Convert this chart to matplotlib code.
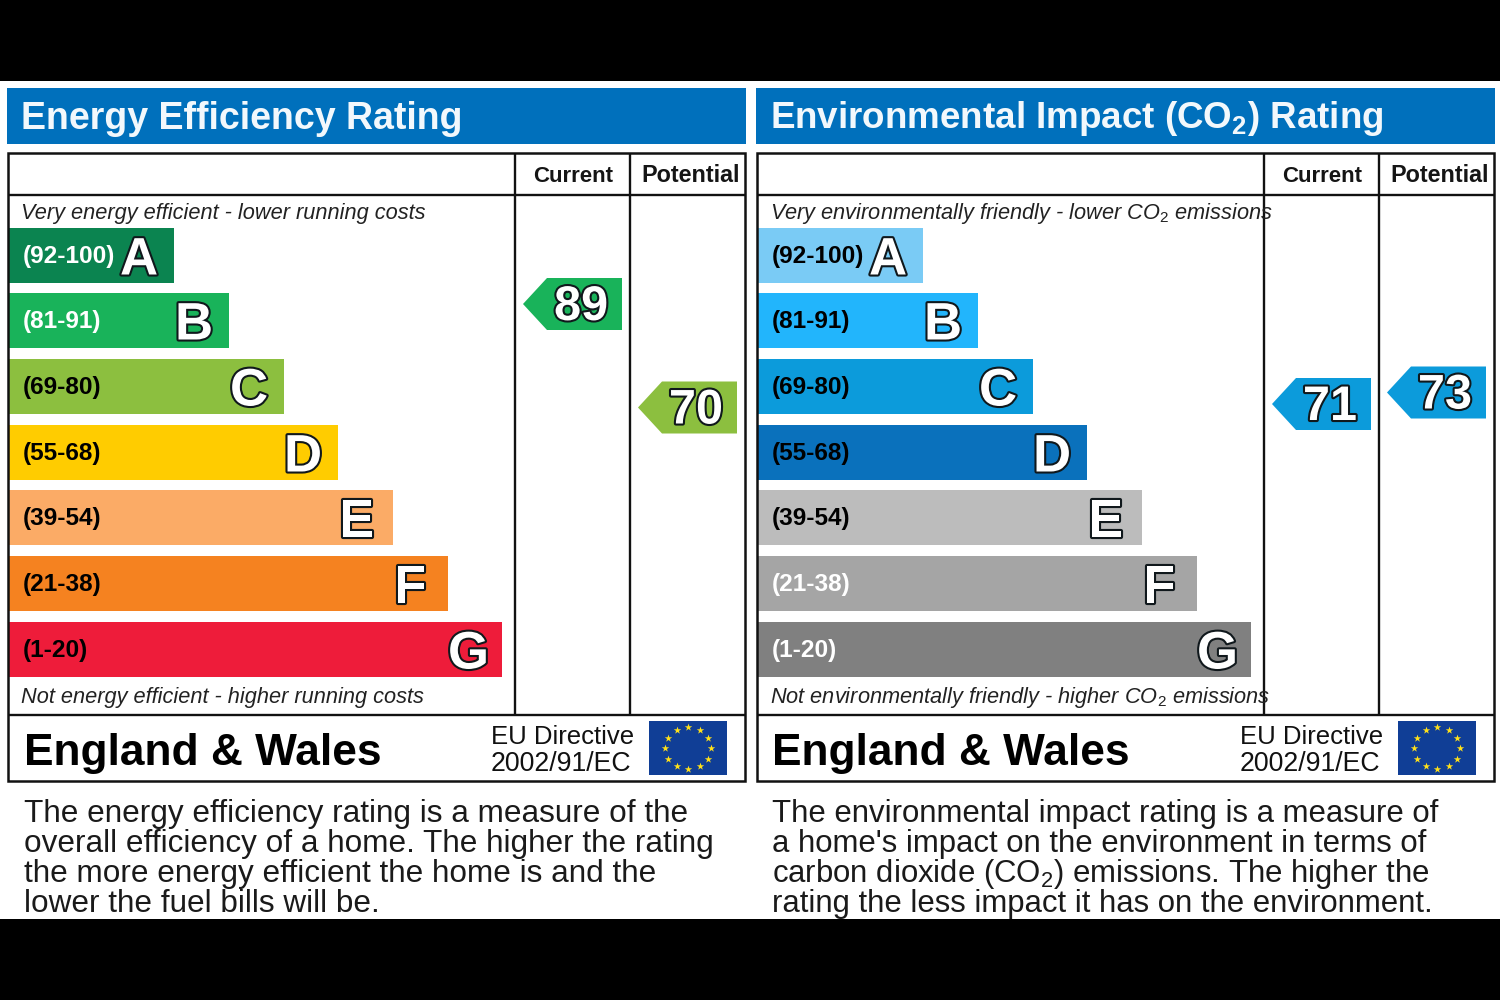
import numpy as np
import matplotlib
matplotlib.use("Agg")
import matplotlib.pyplot as plt
import matplotlib.patheffects as pe
from matplotlib.patches import Polygon, Rectangle

plt.rcParams['font.family'] = ['Liberation Sans', 'DejaVu Sans']
plt.rcParams['mathtext.fontset'] = 'custom'
plt.rcParams['mathtext.rm'] = 'Liberation Sans'
plt.rcParams['mathtext.it'] = 'Liberation Sans:italic'
plt.rcParams['mathtext.bf'] = 'Liberation Sans:bold'

bands = ['(92-100)', '(81-91)', '(69-80)', '(55-68)', '(39-54)', '(21-38)', '(1-20)']
letters = ['A', 'B', 'C', 'D', 'E', 'F', 'G']
bar_lengths = [165, 220, 275, 329, 384, 439, 493]
energy_colors = ['#0B8450', '#19B35A', '#8CBF3F', '#FFCC00', '#FBAB66', '#F58220', '#EE1C3A']
co2_colors = ['#7ACBF5', '#22B5FC', '#0C9BDB', '#0A71BC', '#BCBCBC', '#A5A5A5', '#808080']
energy_band_text = ['white', 'white', 'black', 'black', 'black', 'black', 'black']
co2_band_text = ['black', 'black', 'black', 'black', 'black', 'white', 'white']

energy_current, energy_potential = 89, 70
co2_current, co2_potential = 71, 73

energy_title = 'Energy Efficiency Rating'
co2_title = r'Environmental Impact (CO$_{\mathbf{2}}$) Rating'
energy_top = 'Very energy efficient - lower running costs'
energy_bottom = 'Not energy efficient - higher running costs'
co2_top = r'Very environmentally friendly - lower CO$_{\mathit{2}}$ emissions'
co2_bottom = r'Not environmentally friendly - higher CO$_{\mathit{2}}$ emissions'
energy_text = ['The energy efficiency rating is a measure of the',
               'overall efficiency of a home. The higher the rating',
               'the more energy efficient the home is and the',
               'lower the fuel bills will be.']
co2_text = ['The environmental impact rating is a measure of',
            "a home's impact on the environment in terms of",
            r'carbon dioxide (CO$_{\mathrm{2}}$) emissions. The higher the',
            'rating the less impact it has on the environment.']

fig = plt.figure(figsize=(15, 10), dpi=100, facecolor='white')
ax = fig.add_axes([0, 0, 1, 1])
ax.set_xlim(0, 1500)
ax.set_ylim(1000, 0)
ax.axis('off')

ax.add_patch(Rectangle((0, 0), 1500, 81, fc='black', ec='none'))
ax.add_patch(Rectangle((0, 919), 1500, 81, fc='black', ec='none'))

BLUE = '#0070BC'
band_y = [255.5, 320.5, 386.5, 452.5, 517.5, 583.5, 649.5]
outline = [pe.withStroke(linewidth=3.0, foreground='#10181c')]


def arrow(x_right, yc, color, value):
    w, h, tip = 99, 26, 24
    pts = [(x_right, yc - h), (x_right, yc + h), (x_right - w + tip, yc + h),
           (x_right - w, yc), (x_right - w + tip, yc - h)]
    ax.add_patch(Polygon(pts, closed=True, fc=color, ec='none', zorder=3))
    ax.text(x_right - 41, yc + 3.5, str(value), color='white', fontsize=35, fontweight='bold',
            ha='center', va='center', path_effects=outline, zorder=4)


def panel(x0, fx, title, title_size, colors, band_text, top, bottom, body, body_size):
    # x0 is the left edge of the panel content, fx the left edge of its frame
    ax.add_patch(Rectangle((x0 - 1, 88), 739, 56, fc=BLUE, ec='none'))
    ax.text(x0 + 13, 119, title, color='#F2F8FC', fontsize=title_size, fontweight='bold', va='center', ha='left')
    c1, c2 = fx + 507, fx + 622
    lk = dict(color='#111111', lw=1.7, solid_capstyle='butt', zorder=5)
    ax.add_patch(Rectangle((fx, 153), 737, 628, fc='none', ec='#111111', lw=1.8, zorder=5))
    ax.plot([fx, fx + 737], [194.5, 194.5], **lk)
    ax.plot([fx, fx + 737], [715, 715], **lk)
    ax.plot([c1, c1], [153, 715], **lk)
    ax.plot([c2, c2], [153, 715], **lk)
    ax.text(x0 + 565, 176.5, 'Current', fontsize=16, fontweight='bold', ha='center', va='center', color='#151515')
    ax.text(x0 + 683, 176, 'Potential', fontsize=16.8, fontweight='bold', ha='center', va='center', color='#151515')
    ax.text(x0 + 13, 213, top, fontsize=15.65, style='italic', va='center', color='#222222', zorder=6)
    ax.text(x0 + 13, 697, bottom, fontsize=15.65, style='italic', va='center', color='#222222', zorder=6)
    ax.barh(band_y, bar_lengths, height=55, left=x0 + 1, color=colors, edgecolor='none', zorder=2)
    for y, b, ln, ch, tc in zip(band_y, bands, bar_lengths, letters, band_text):
        ax.text(x0 + 15, y + 1, b, fontsize=17.6, fontweight='bold', color=tc, va='center', zorder=3)
        ax.text(x0 + ln - 53, y + 5, ch, fontsize=38, fontweight='bold', color='white', ha='left', va='center',
                path_effects=outline, zorder=3)
    ax.text(x0 + 15.5, 753, 'England & Wales', fontsize=31.9, fontweight='bold', va='center', color='black')
    ax.text(x0 + 483, 737, 'EU Directive', fontsize=18.5, va='center', color='#111111')
    ax.text(x0 + 483, 764, '2002/91/EC', fontsize=19.2, va='center', color='#111111')
    # EU flag
    ax.add_patch(Rectangle((x0 + 641, 721), 78, 54, fc='#103E96', ec='none', zorder=3))
    ang = np.arange(12) * np.pi / 6
    ax.scatter(x0 + 680 + 23 * np.sin(ang), 748 - 21 * np.cos(ang), marker='*', s=32,
               c='#FFE11A', linewidths=0, zorder=4)
    for y, line in zip([814, 844, 874, 904], body):
        ax.text(x0 + 15.5, y, line, fontsize=body_size, va='center', color='#1a1a1a')


panel(8, 8, energy_title, 27, energy_colors, energy_band_text, energy_top, energy_bottom, energy_text, 22.65)
panel(757, 756.5, co2_title, 26.5, co2_colors, co2_band_text, co2_top, co2_bottom, co2_text, 22.4)

arrow(622, 304, energy_colors[1], energy_current)
arrow(737, 407.5, energy_colors[2], energy_potential)
arrow(1371, 404, co2_colors[2], co2_current)
arrow(1486, 392.5, co2_colors[2], co2_potential)

fig.savefig('out.png', dpi=100, facecolor='white')
